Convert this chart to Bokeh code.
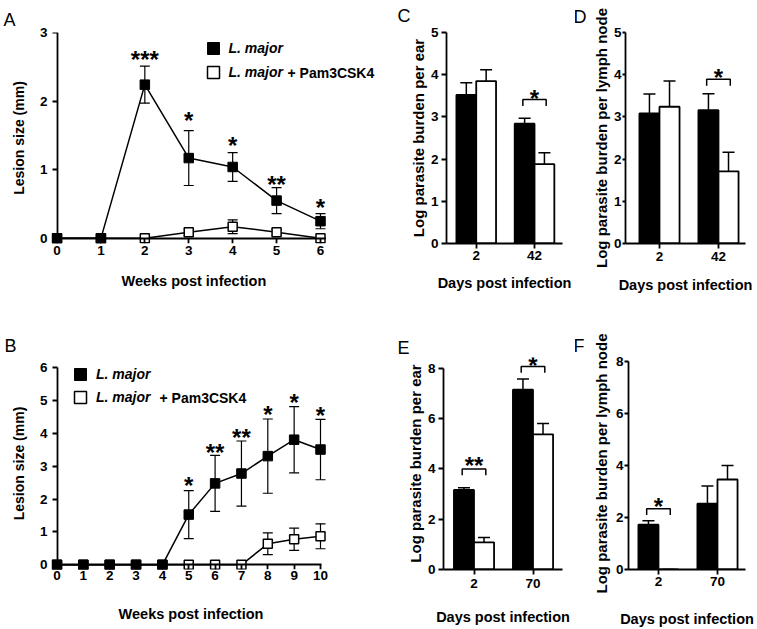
from bokeh.plotting import figure
from bokeh.layouts import column, row
from bokeh.models import (ColumnDataSource, Whisker, TeeHead, Label, Legend,
                          LegendItem, FixedTicker, Range1d, Title, LinearAxis)
from bokeh.core.properties import value
from bokeh.embed import file_html
from bokeh.resources import INLINE

FONT = "Liberation Sans"

# ---------------- data ----------------
weeks_a = [0, 1, 2, 3, 4, 5, 6]
lmajor_a = [0, 0, 2.24, 1.17, 1.04, 0.55, 0.25]
lmajor_a_err = [0, 0, 0.27, 0.40, 0.21, 0.19, 0.11]
pam_a = [0, 0, 0, 0.09, 0.17, 0.09, 0]
pam_a_err = [0, 0, 0, 0.05, 0.10, 0.04, 0]
sig_a_x = [2, 3, 4, 5, 6]
sig_a_text = ["***", "*", "*", "**", "*"]
sig_a_y = [2.67, 1.78, 1.41, 0.85, 0.51]

weeks_b = [0, 1, 2, 3, 4, 5, 6, 7, 8, 9, 10]
lmajor_b = [0, 0, 0, 0, 0, 1.53, 2.48, 2.78, 3.31, 3.81, 3.51]
lmajor_b_err = [0, 0, 0, 0, 0, 0.73, 0.85, 0.99, 1.13, 1.01, 0.92]
pam_b = [0, 0, 0, 0, 0, 0, 0, 0, 0.64, 0.78, 0.87]
pam_b_err = [0, 0, 0, 0, 0, 0, 0, 0, 0.33, 0.34, 0.38]
sig_b_x = [5, 6, 7, 8, 9, 10]
sig_b_text = ["*", "**", "**", "*", "*", "*"]
sig_b_y = [2.53, 3.53, 4.0, 4.71, 5.06, 4.66]

days_cd = ["2", "42"]
days_ef = ["2", "70"]

c_lmajor = [3.52, 2.84]
c_lmajor_err = [0.29, 0.13]
c_pam = [3.85, 1.88]
c_pam_err = [0.27, 0.27]
c_sig_group = [2]
c_sig_text = ["*"]
c_bracket_y = [3.41]
c_star_y = [3.53]

d_lmajor = [3.08, 3.16]
d_lmajor_err = [0.46, 0.39]
d_pam = [3.24, 1.71]
d_pam_err = [0.61, 0.45]
d_sig_group = [2]
d_sig_text = ["*"]
d_bracket_y = [3.89]
d_star_y = [4.02]

e_lmajor = [3.16, 7.14]
e_lmajor_err = [0.09, 0.43]
e_pam = [1.08, 5.37]
e_pam_err = [0.19, 0.43]
e_sig_group = [1, 2]
e_sig_text = ["**", "*"]
e_bracket_y = [3.99, 8.06]
e_star_y = [4.27, 8.27]

f_lmajor = [1.72, 2.53]
f_lmajor_err = [0.15, 0.68]
f_pam = [0.0, 3.46]
f_pam_err = [0.0, 0.54]
f_sig_group = [1]
f_sig_text = ["*"]
f_bracket_y = [2.34]
f_star_y = [2.58]

# ---------------- helpers ----------------
TICK_FONT = "13.5px"
XTITLE_FONT = "14.5px"
STAR_SIZE = 24
STAR_OFF = 4
ROW_SPLIT = 310


def style_axis(ax):
    ax.axis_line_width = 1.8
    ax.axis_line_color = "black"
    ax.major_tick_line_width = 1.8
    ax.major_tick_line_color = "black"
    ax.major_tick_in = 0
    ax.minor_tick_line_color = None
    ax.major_label_text_font = FONT
    ax.major_label_text_font_size = TICK_FONT
    ax.major_label_text_font_style = "bold"
    ax.major_label_text_color = "black"
    ax.axis_label_text_font = FONT
    ax.axis_label_text_font_style = "bold"
    ax.axis_label_text_color = "black"


def make_panel(fig_box, frame_box, xr, yr, xticks, yticks, xlabel, ylabel,
               ylab_standoff, xmaj_standoff, xlab_standoff, letter, letter_x,
               letter_standoff, letter_valign, ytitle_font="14px",
               ytick_out=5, ymaj_standoff=3, xbounds=None, ybounds=None,
               zero_axes=False):
    fx0, fy0, fx1, fy1 = fig_box
    l, t, r, b = frame_box
    p = figure(width=fx1 - fx0, height=fy1 - fy0,
               min_border_left=l - fx0, min_border_right=fx1 - r,
               min_border_top=t - fy0, min_border_bottom=fy1 - b,
               x_range=Range1d(*xr), y_range=Range1d(*yr),
               output_backend="svg", toolbar_location=None, tools="",
               title=letter)
    p.title.align = "left"
    p.title.offset = letter_x - l
    p.title.standoff = letter_standoff
    p.title.vertical_align = letter_valign
    p.title.text_font = FONT
    p.title.text_font_size = "18px"
    p.title.text_font_style = "normal"
    p.title.text_color = "black"
    p.outline_line_color = None
    p.xgrid.grid_line_color = None
    p.ygrid.grid_line_color = None
    p.background_fill_color = "white"
    p.border_fill_color = "white"
    xa, ya = p.xaxis[0], p.yaxis[0]
    style_axis(xa)
    style_axis(ya)
    xa.axis_label_text_font_size = XTITLE_FONT
    ya.axis_label_text_font_size = ytitle_font
    xa.major_tick_out = 5
    ya.major_tick_out = ytick_out
    ya.major_label_standoff = ymaj_standoff
    xa.major_label_standoff = xmaj_standoff
    if xlabel:
        xa.axis_label = xlabel
    ya.axis_label = ylabel
    ya.axis_label_standoff = ylab_standoff
    xa.axis_label_standoff = xlab_standoff
    xa.ticker = FixedTicker(ticks=xticks)
    ya.ticker = FixedTicker(ticks=yticks)
    if zero_axes:
        # labels/titles stay at the frame edge; the axis lines and ticks are
        # drawn by axes fixed at the data origin (so zero markers sit on them)
        for ax in (xa, ya):
            ax.axis_line_color = None
            ax.major_tick_line_color = None
            ax.major_tick_out = 0
            ax.minor_tick_out = 0
    else:
        if xbounds:
            xa.bounds = xbounds
        if ybounds:
            ya.bounds = ybounds
    return p


def add_zero_axes(p, xticks, yticks, xbounds, ybounds):
    # placed on the opposite sides so they take no room from the labels;
    # their ticks point "in", i.e. down / left from the origin lines
    for side, ticks, bounds in (("above", xticks, xbounds), ("right", yticks, ybounds)):
        ax = LinearAxis(fixed_location=0, bounds=bounds, ticker=FixedTicker(ticks=ticks))
        style_axis(ax)
        ax.major_tick_out = 0
        ax.major_tick_in = 5
        ax.minor_tick_out = 0
        ax.major_label_text_font_size = "0px"
        ax.major_label_standoff = 0
        ax.major_label_text_color = None
        p.add_layout(ax, side)


def to_frame(frame_box, ix, iy):
    l, t, r, b = frame_box
    return ix - l, b - iy


def add_stars(p, xs, ys, texts):
    src = ColumnDataSource(dict(x=xs, y=ys, t=texts))
    p.text(x="x", y="y", text="t", source=src, text_font=value(FONT),
           text_font_size=f"{STAR_SIZE}px", text_font_style="bold",
           text_align="center", text_baseline="alphabetic", y_offset=STAR_OFF,
           text_color="black")


def line_panel(p, frame_box, weeks, lm, lm_err, pam, pam_err, leg_rows, plus_pos):
    src_lm = ColumnDataSource(dict(x=weeks, y=lm,
                                   upper=[v + e for v, e in zip(lm, lm_err)],
                                   lower=[v - e for v, e in zip(lm, lm_err)]))
    src_pam = ColumnDataSource(dict(x=weeks, y=pam,
                                    upper=[v + e for v, e in zip(pam, pam_err)],
                                    lower=[v - e for v, e in zip(pam, pam_err)]))
    for src in (src_pam, src_lm):
        p.add_layout(Whisker(source=src, base="x", upper="upper", lower="lower",
                             dimension="height", line_color="black", line_width=1.2,
                             upper_head=TeeHead(size=10, line_color="black", line_width=1.2),
                             lower_head=TeeHead(size=10, line_color="black", line_width=1.2),
                             level="underlay"))
    p.line("x", "y", source=src_pam, line_color="black", line_width=1.5)
    r_pam = p.scatter("x", "y", source=src_pam, marker="square", size=9,
                      fill_color="white", line_color="black", line_width=1.5)
    p.line("x", "y", source=src_lm, line_color="black", line_width=1.5)
    r_lm = p.scatter("x", "y", source=src_lm, marker="square", size=9.5,
                     fill_color="black", line_color="black", line_width=1)
    for rend, (gx, gy) in zip((r_lm, r_pam), leg_rows):
        fx, fy = to_frame(frame_box, gx - 15, gy + 15)
        p.add_layout(Legend(items=[LegendItem(label="L. major", renderers=[rend])],
                            location=(fx, fy), glyph_width=30, glyph_height=30,
                            label_height=30, label_standoff=1, padding=0, spacing=0,
                            margin=0, border_line_color=None, background_fill_alpha=0,
                            label_text_font=FONT, label_text_font_size="14px",
                            label_text_font_style="bold italic",
                            label_text_color="black"))
    px, py = to_frame(frame_box, plus_pos[0], plus_pos[1])
    p.add_layout(Label(x=px, y=py, x_units="screen", y_units="screen",
                       text="+ Pam3CSK4", text_font=FONT, text_font_size="14px",
                       text_font_style="bold", text_baseline="middle",
                       text_color="black"))


BAR_W = 0.34
HALF = 0.17


def bar_panel(p, frame_box, yr, lm, lm_err, pam, pam_err, labels,
              sig_group, sig_text, bracket_y, star_y):
    l, t, r, b = frame_box
    uy = (b - t) / (yr[1] - yr[0])
    gx = [1, 2]
    p.xaxis[0].major_label_overrides = {g: lab for g, lab in zip(gx, labels)}
    src_lm = ColumnDataSource(dict(x=[g - HALF for g in gx], top=lm,
                                   upper=[v + e for v, e in zip(lm, lm_err)]))
    src_pam = ColumnDataSource(dict(x=[g + HALF for g in gx], top=pam,
                                    upper=[v + e for v, e in zip(pam, pam_err)]))
    for src in (src_lm, src_pam):
        p.add_layout(Whisker(source=src, base="x", upper="upper", lower="top",
                             dimension="height", line_color="black", line_width=1.5,
                             upper_head=TeeHead(size=12, line_color="black", line_width=1.5),
                             lower_head=None, level="underlay"))
    p.vbar(x="x", top="top", bottom=0, width=BAR_W, source=src_lm,
           fill_color="black", line_color="black", line_width=1.8)
    p.vbar(x="x", top="top", bottom=0, width=BAR_W, source=src_pam,
           fill_color="white", line_color="black", line_width=1.8)
    drop = 6.5 / uy
    xs, ys = [], []
    for g, yb in zip(sig_group, bracket_y):
        xs.append([g - 0.2, g - 0.2, g + 0.2, g + 0.2])
        ys.append([yb - drop, yb, yb, yb - drop])
    p.multi_line(xs=xs, ys=ys, line_color="black", line_width=1.5)
    add_stars(p, sig_group, star_y, sig_text)


# ---------------- panel A ----------------
x0A, uxA = 56.5, (320 - 56.5) / 6
y0A, uyA = 242.7, (242.7 - 31) / 3
fA = (51, 31, 378, 248)
xrA = ((fA[0] - x0A) / uxA, (fA[2] - x0A) / uxA)
yrA = ((y0A - fA[3]) / uyA, (y0A - fA[1]) / uyA)
pA = make_panel((0, 0, 380, ROW_SPLIT), fA, xrA, yrA, weeks_a, [0, 1, 2, 3],
                None, "Lesion size (mm)",
                ylab_standoff=10, xmaj_standoff=2, xlab_standoff=9,
                letter="A", letter_x=3, letter_standoff=2.4, letter_valign="top",
                ymaj_standoff=4, zero_axes=True)
pA.add_layout(Title(text="Weeks post infection", align="left", offset=121 - fA[0],
                    standoff=26, vertical_align="bottom", text_font=FONT,
                    text_font_size=XTITLE_FONT, text_font_style="bold",
                    text_color="black"), "below")
add_zero_axes(pA, weeks_a, [0, 1, 2, 3], (0, 6.12), (0, 3))
line_panel(pA, fA, weeks_a, lmajor_a, lmajor_a_err, pam_a, pam_a_err,
           [(212.5, 52.5), (212.5, 77)], (287, 77))
add_stars(pA, sig_a_x, sig_a_y, sig_a_text)

# ---------------- panel B ----------------
x0B, uxB = 56.5, (320 - 56.5) / 10
y0B, uyB = 574, (574 - 363) / 6
fB = (51, 352, 330, 579)
xrB = ((fB[0] - x0B) / uxB, (fB[2] - x0B) / uxB)
yrB = ((y0B - fB[3]) / uyB, (y0B - fB[1]) / uyB)
pB = make_panel((0, ROW_SPLIT, 380, 629), fB, xrB, yrB, weeks_b,
                [0, 1, 2, 3, 4, 5, 6], "Weeks post infection", "Lesion size (mm)",
                ylab_standoff=10, xmaj_standoff=1, xlab_standoff=23,
                letter="B", letter_x=4, letter_standoff=0, letter_valign="top",
                ymaj_standoff=4, zero_axes=True)
add_zero_axes(pB, weeks_b, [0, 1, 2, 3, 4, 5, 6], (0, 10.04), (0, 6))
line_panel(pB, fB, weeks_b, lmajor_b, lmajor_b_err, pam_b, pam_b_err,
           [(80, 383.5), (80, 407)], (159, 407))
add_stars(pB, sig_b_x, sig_b_y, sig_b_text)

# ---------------- panel C ----------------
fC = (446, 32, 562, 243)
yrC = (0, 5)
pC = make_panel((380, 0, 575, ROW_SPLIT), fC, (0.49, 2.48), yrC, [1, 2],
                [0, 1, 2, 3, 4, 5], "Days post infection", "Log parasite burden per ear",
                ylab_standoff=1, xmaj_standoff=2, xlab_standoff=12, ytitle_font="15px",
                letter="C", letter_x=397, letter_standoff=9, letter_valign="top")
bar_panel(pC, fC, yrC, c_lmajor, c_lmajor_err, c_pam, c_pam_err, days_cd,
          c_sig_group, c_sig_text, c_bracket_y, c_star_y)

# ---------------- panel D ----------------
fD = (625, 31, 745, 243)
pD = make_panel((575, 0, 757, ROW_SPLIT), fD, (0.424, 2.458), (0, 5), [1, 2],
                [0, 1, 2, 3, 4, 5], "Days post infection",
                "Log parasite burden per lymph node",
                ylab_standoff=1, xmaj_standoff=3, xlab_standoff=13, ytitle_font="15px",
                letter="D", letter_x=573, letter_standoff=8, letter_valign="top",
                ytick_out=3, ymaj_standoff=1)
bar_panel(pD, fD, (0, 5), d_lmajor, d_lmajor_err, d_pam, d_pam_err, days_cd,
          d_sig_group, d_sig_text, d_bracket_y, d_star_y)

# ---------------- panel E ----------------
fE = (443, 352, 562, 573)
yrE = (0, (573 - 352) / 26.25)
pE = make_panel((380, ROW_SPLIT, 575, 629), fE, (0.483, 2.5), yrE, [1, 2],
                [0, 2, 4, 6, 8], "Days post infection", "Log parasite burden per ear",
                ylab_standoff=1, xmaj_standoff=4, xlab_standoff=18, ytitle_font="15px",
                letter="E", letter_x=397, letter_standoff=0, letter_valign="bottom",
                ybounds=(0, 8))
bar_panel(pE, fE, yrE, e_lmajor, e_lmajor_err, e_pam, e_pam_err, days_ef,
          e_sig_group, e_sig_text, e_bracket_y, e_star_y)

# ---------------- panel F ----------------
fF = (628, 357, 745, 571)
yrF = (0, (571 - 357) / 26.25)
pF = make_panel((575, ROW_SPLIT, 757, 629), fF, (0.492, 2.475), yrF, [1, 2],
                [0, 2, 4, 6, 8], "Days post infection",
                "Log parasite burden per lymph node",
                ylab_standoff=3, xmaj_standoff=2, xlab_standoff=22, ytitle_font="15px",
                letter="F", letter_x=573, letter_standoff=0, letter_valign="top",
                ytick_out=4, ymaj_standoff=1, ybounds=(0, 8))
bar_panel(pF, fF, yrF, f_lmajor, f_lmajor_err, f_pam, f_pam_err, days_ef,
          f_sig_group, f_sig_text, f_bracket_y, f_star_y)

layout = column(row(pA, pC, pD), row(pB, pE, pF))
open("out.html", "w").write(file_html(layout, INLINE))
